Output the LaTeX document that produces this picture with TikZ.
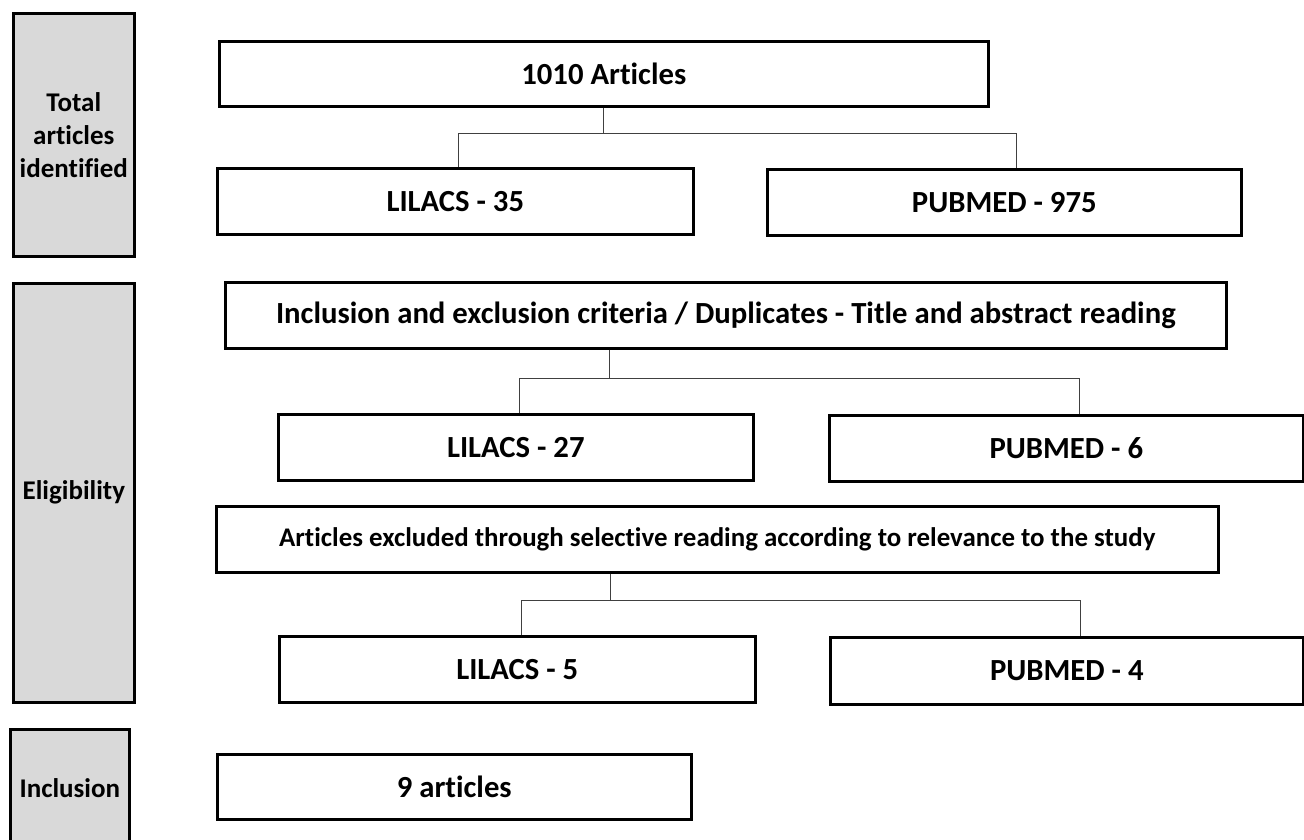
\documentclass[tikz,border=0pt]{standalone}
\usepackage{fontspec}
\setmainfont{Carlito}[Ligatures=NoCommon]
\definecolor{stagegray}{HTML}{D9D9D9}
\definecolor{linegray}{HTML}{404040}
\begin{document}
\begin{tikzpicture}[x=1pt,y=-1pt,
  box/.style={draw=black, line width=2.6pt, fill=white, inner sep=0pt, anchor=north west,
    font=\bfseries\fontsize{30.7}{36}\selectfont},
  smallbox/.style={box, font=\bfseries\fontsize{26.9}{32}\selectfont},
  stage/.style={draw=black, line width=2.6pt, fill=stagegray, inner sep=0pt, anchor=north west,
    align=center, font=\bfseries\fontsize{27}{33}\selectfont},
  conn/.style={draw=linegray, line width=1.3pt}]
\useasboundingbox (0,0) rectangle (1304,839);
% stage boxes
\node[stage, minimum width=121pt, minimum height=243pt] (total) at (12,12) {Total\\articles\\identified};
\node[stage, minimum width=121pt, minimum height=419pt] (elig) at (12,282) {Eligibility};
\node[stage, minimum width=119pt, minimum height=117pt] (inclu) at (9,728) {Inclusion};
% flow boxes
\node[box, minimum width=769pt, minimum height=65pt] (top) at (218,40) {1010 Articles};
\node[box, minimum width=476pt, minimum height=66pt] (lil35) at (216,167) {LILACS - 35};
\node[box, minimum width=474pt, minimum height=66pt] (pub975) at (766,168) {PUBMED - 975};
\node[box, minimum width=1001pt, minimum height=66pt] (crit) at (224,281) {Inclusion and exclusion criteria / Duplicates - Title and abstract reading};
\node[box, minimum width=475pt, minimum height=66pt] (lil27) at (277,413) {LILACS - 27};
\node[box, minimum width=474pt, minimum height=66pt] (pub6) at (828,414) {PUBMED - 6};
\node[smallbox, minimum width=1002pt, minimum height=66pt] (excl) at (215,505) {Articles excluded through selective reading according to relevance to the study};
\node[box, minimum width=476pt, minimum height=66pt] (lil5) at (278,635) {LILACS - 5};
\node[box, minimum width=473pt, minimum height=67pt] (pub4) at (829,636) {PUBMED - 4};
\node[box, minimum width=474pt, minimum height=65pt] (nine) at (216,753) {9 articles};
% connectors
\coordinate (j1) at ([yshift=-26pt]top.south);
\draw[conn] (top.south) -- (j1);
\draw[conn] ([xshift=3pt]lil35.north) |- (j1) -| ([xshift=12pt]pub975.north);
\coordinate (s2) at ([xshift=-116.5pt]crit.south);
\coordinate (j2) at ([yshift=-29pt]s2);
\draw[conn] (s2) -- (j2);
\draw[conn] ([xshift=3.5pt]lil27.north) |- (j2) -| ([xshift=13pt]pub6.north);
\coordinate (s3) at ([xshift=-107pt]excl.south);
\coordinate (j3) at ([yshift=-27pt]s3);
\draw[conn] (s3) -- (j3);
\draw[conn] ([xshift=4pt]lil5.north) |- (j3) -| ([xshift=13.5pt]pub4.north);
\end{tikzpicture}
\end{document}
